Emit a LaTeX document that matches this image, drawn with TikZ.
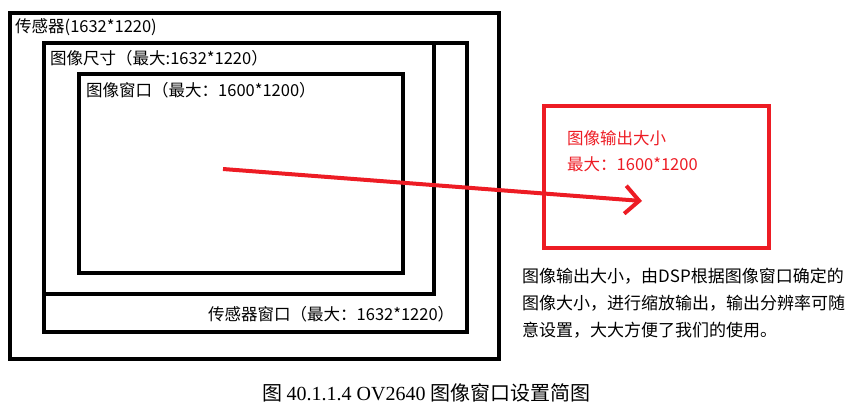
\documentclass[tikz,border=0pt]{standalone}
\usepackage{fontspec}
\newfontfamily\cjk{Noto Sans CJK SC}
\newfontfamily\capserif{Liberation Serif}
\usetikzlibrary{arrows.meta,positioning}
\definecolor{paintred}{RGB}{237,28,36}

\begin{document}
\begin{tikzpicture}[x=1pt, y=-1pt,
    frame/.style={draw=black, line width=4pt},
    redframe/.style={draw=paintred, line width=4pt},
    lbl/.style={anchor=west, inner sep=0pt, font=\cjk\fontsize{16.5}{19}\selectfont},
    redlbl/.style={lbl, text=paintred},
    note/.style={anchor=north west, inner sep=0pt, align=left,
        font=\cjk\fontsize{17}{27}\selectfont}]
    \useasboundingbox (0,0) rectangle (860,410);

    % Sensor and windows
    \draw[frame] (9.5,13) rectangle (498.5,359);
    \draw[frame] (43.5,43) rectangle (467,332);
    \draw[frame] (43.5,43) rectangle (434,294);
    \draw[frame] (79,74) rectangle (403,273);
    \node[lbl] (sensor) at (15,27) {传感器(1632*1220)};
    \node[lbl] (imgsize) at (50,58) {图像尺寸（最大:1632*1220）};
    \node[lbl] (imgwin) at (86,90) {图像窗口（最大：1600*1200）};
    \node[lbl] (sensorwin) at (208,314) {传感器窗口（最大：1632*1220）};

    % Output size
    \draw[redframe] (544,106) rectangle (768.5,248);
    \node[redlbl] (outsize) at (567,138) {图像输出大小};
    \node[redlbl] (outmax) at (567,164) {最大：1600*1200};

    % Scaling arrow
    \coordinate (arrowstart) at (223,169);
    \coordinate (arrowend) at (642,201);
    \draw[paintred, line width=4pt, -{Straight Barb[length=14pt,width=28pt,line width=4pt]}]
        (arrowstart) -- (arrowend);

    % Note and caption
    \node[note] (remark) at (522,268) {图像输出大小，由DSP根据图像窗口确定的\\
        图像大小，进行缩放输出，输出分辨率可随\\
        意设置，大大方便了我们的使用。};
    \node[anchor=west, inner sep=0pt, font=\fontsize{20}{24}\selectfont] (caption) at (262,393)
        {\cjk 图\ \capserif 40.1.1.4 OV2640 \cjk 图像窗口设置简图};
\end{tikzpicture}
\end{document}
